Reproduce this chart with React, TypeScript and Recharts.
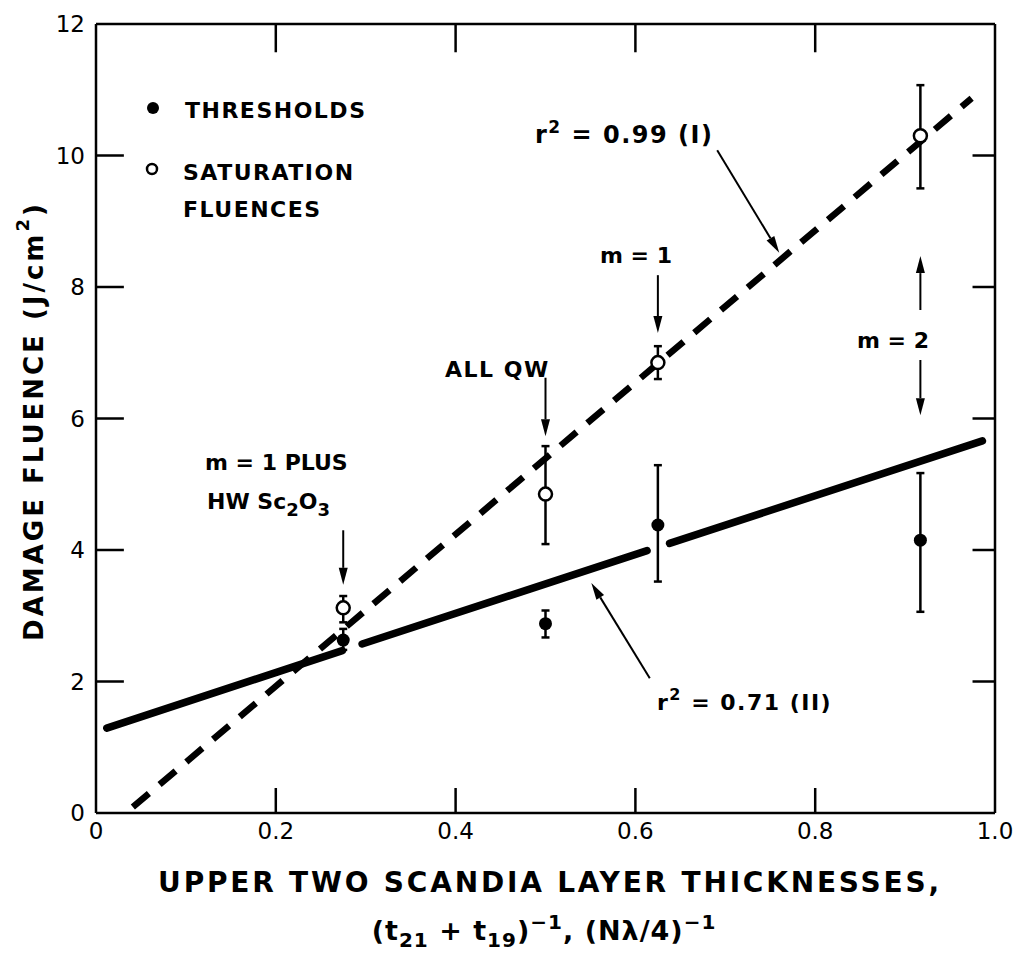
import {
  ComposedChart,
  ErrorBar,
  Line,
  ReferenceLine,
  Scatter,
  XAxis,
  YAxis,
} from "recharts";

// axis ticks
const X_TICKS = [0, 0.2, 0.4, 0.6, 0.8, 1.0];
const Y_TICKS = [0, 2, 4, 6, 8, 10, 12];
const X_INNER_TICKS = [0.2, 0.4, 0.6, 0.8];
const Y_INNER_TICKS = [2, 4, 6, 8, 10];

// thresholds (filled)
const thresholdX = [0.275, 0.5, 0.625, 0.917];
const thresholdY = [2.63, 2.88, 4.38, 4.15];
const thresholdLow = [2.48, 2.67, 3.52, 3.06];
const thresholdHigh = [2.8, 3.08, 5.29, 5.17];

// saturation fluences (open)
const saturationX = [0.275, 0.5, 0.625, 0.917];
const saturationY = [3.12, 4.85, 6.85, 10.3];
const saturationLow = [2.9, 4.09, 6.6, 9.5];
const saturationHigh = [3.3, 5.58, 7.1, 11.07];

// fit I (dashed), r^2 = 0.99
const fitIX = [0.041, 0.974];
const fitIY = [0.09, 10.87];

// fit II (heavy solid), r^2 = 0.71, drawn with two breaks
const fitIIX = [0.012, 0.274, 0.285, 0.296, 0.613, 0.625, 0.638, 0.986];
const fitIIY = [1.29, 2.47, null, 2.57, 3.99, null, 4.1, 5.66];

// annotation arrows: [x1, y1, x2(tip), y2(tip)]
const ARROWS = [
  [0.275, 4.3, 0.275, 3.47],
  [0.5, 6.62, 0.5, 5.73],
  [0.625, 8.18, 0.625, 7.3],
  [0.917, 7.65, 0.917, 8.47],
  [0.917, 6.89, 0.917, 6.05],
  [0.691, 10.08, 0.76, 8.52],
  [0.616, 2.05, 0.551, 3.5],
];

const withErr = (xs: number[], ys: number[], lo: number[], hi: number[]) =>
  xs.map((x, i) => ({ x, y: ys[i], err: [ys[i] - lo[i], hi[i] - ys[i]] }));

const thresholds = withErr(thresholdX, thresholdY, thresholdLow, thresholdHigh);
const saturation = withErr(saturationX, saturationY, saturationLow, saturationHigh);
const fitI = fitIX.map((x, i) => ({ x, y: fitIY[i] }));
const fitII = fitIIX.map((x, i) => ({ x, y: fitIIY[i] }));

const FONT = "'DejaVu Sans', 'Liberation Sans', sans-serif";
const AXIS = { stroke: "#000", strokeWidth: 2.5 };

const FilledDot = (props: any) => (
  <circle cx={props.cx} cy={props.cy} r={6.5} fill="#000" />
);
const OpenDot = (props: any) => (
  <circle cx={props.cx} cy={props.cy} r={6.5} fill="#fff" stroke="#000" strokeWidth={2.5} />
);

const Arrow = (props: any) => {
  const { x1, y1, x2, y2 } = props;
  const dx = x2 - x1;
  const dy = y2 - y1;
  const len = Math.sqrt(dx * dx + dy * dy) || 1;
  const ux = dx / len;
  const uy = dy / len;
  const bx = x2 - ux * 17;
  const by = y2 - uy * 17;
  return (
    <g>
      <line x1={x1} y1={y1} x2={bx} y2={by} stroke="#000" strokeWidth={2} />
      <polygon
        points={`${x2},${y2} ${bx - uy * 4.5},${by + ux * 4.5} ${bx + uy * 4.5},${by - ux * 4.5}`}
        fill="#000"
      />
    </g>
  );
};

export default function App() {
  return (
    <div style={{ position: "absolute", left: 0, top: 0, width: 1024, height: 968, background: "#fff" }}>
      <ComposedChart
        width={1024}
        height={968}
        margin={{ top: 24, right: 29, bottom: 95, left: 10 }}
      >
        <XAxis
          dataKey="x"
          type="number"
          domain={[0, 1]}
          ticks={X_TICKS}
          tickFormatter={(v: number) => (v === 0 ? "0" : v.toFixed(1))}
          axisLine={AXIS}
          tickLine={false}
          tickSize={0}
          tickMargin={10}
          height={60}
          tick={{ fill: "#000", fontSize: 23, fontFamily: FONT }}
        />
        <YAxis
          dataKey="y"
          type="number"
          domain={[0, 12]}
          ticks={Y_TICKS}
          axisLine={AXIS}
          tickLine={false}
          tickSize={0}
          tickMargin={11}
          width={86}
          tick={{ fill: "#000", fontSize: 23, fontFamily: FONT }}
        />

        {/* top and right frame */}
        <ReferenceLine y={12} stroke="#000" strokeWidth={2.5} />
        <ReferenceLine x={1} stroke="#000" strokeWidth={2.5} />

        {X_INNER_TICKS.map((t) => (
          <ReferenceLine key={`b${t}`} segment={[{ x: t, y: 0 }, { x: t, y: 0.38 }]} stroke="#000" strokeWidth={2.5} />
        ))}
        {X_INNER_TICKS.map((t) => (
          <ReferenceLine key={`t${t}`} segment={[{ x: t, y: 12 }, { x: t, y: 11.57 }]} stroke="#000" strokeWidth={2.5} />
        ))}
        {Y_INNER_TICKS.map((t) => (
          <ReferenceLine key={`l${t}`} segment={[{ x: 0, y: t }, { x: 0.031, y: t }]} stroke="#000" strokeWidth={2.5} />
        ))}
        {Y_INNER_TICKS.map((t) => (
          <ReferenceLine key={`r${t}`} segment={[{ x: 0.975, y: t }, { x: 1, y: t }]} stroke="#000" strokeWidth={2.5} />
        ))}

        <Line
          data={fitI}
          dataKey="y"
          type="linear"
          stroke="#000"
          strokeWidth={6.5}
          strokeDasharray="21 14"
          dot={false}
          activeDot={false}
          isAnimationActive={false}
        />
        <Line
          data={fitII}
          dataKey="y"
          type="linear"
          stroke="#000"
          strokeWidth={7.5}
          strokeLinecap="round"
          connectNulls={false}
          dot={false}
          activeDot={false}
          isAnimationActive={false}
        />

        {ARROWS.map(([x1, y1, x2, y2], i) => (
          <ReferenceLine
            key={`a${i}`}
            segment={[{ x: x1, y: y1 }, { x: x2, y: y2 }]}
            shape={Arrow}
          />
        ))}

        <Scatter data={thresholds} shape={FilledDot} isAnimationActive={false}>
          <ErrorBar dataKey="err" direction="y" width={4} stroke="#000" strokeWidth={2.5} />
        </Scatter>
        <Scatter data={saturation} shape={OpenDot} isAnimationActive={false}>
          <ErrorBar dataKey="err" direction="y" width={4} stroke="#000" strokeWidth={2.5} />
        </Scatter>
      </ComposedChart>

      <svg
        width={1024}
        height={968}
        style={{ position: "absolute", left: 0, top: 0, pointerEvents: "none" }}
        fontFamily={FONT}
        fontWeight="bold"
        fill="#000"
      >
        {/* legend */}
        <circle cx={153} cy={108} r={6} fill="#000" />
        <text x={185} y={118} fontSize={22} letterSpacing={1.5}>THRESHOLDS</text>
        <circle cx={152} cy={169} r={5} fill="#fff" stroke="#000" strokeWidth={2.5} />
        <text x={183} y={180} fontSize={22} letterSpacing={1.5}>SATURATION</text>
        <text x={183} y={217} fontSize={22} letterSpacing={1.5}>FLUENCES</text>

        {/* annotations */}
        <text x={535} y={143} fontSize={24} letterSpacing={1.5}>
          r<tspan dy={-10} fontSize={17}>2</tspan>
          <tspan dy={10}> = 0.99 (I)</tspan>
        </text>
        <text x={600} y={263} fontSize={22}>m = 1</text>
        <text x={445} y={377} fontSize={22} letterSpacing={1.5}>ALL QW</text>
        <text x={857} y={348} fontSize={22}>m = 2</text>
        <text x={205} y={470} fontSize={22}>m = 1 PLUS</text>
        <text x={207} y={509} fontSize={22}>
          HW Sc<tspan dy={7} fontSize={18}>2</tspan>
          <tspan dy={-7}>O</tspan>
          <tspan dy={7} fontSize={18}>3</tspan>
        </text>
        <text x={657} y={710} fontSize={22} letterSpacing={1.5}>
          r<tspan dy={-10} fontSize={16}>2</tspan>
          <tspan dy={10}> = 0.71 (II)</tspan>
        </text>

        {/* axis titles */}
        <text
          x={35}
          y={421}
          fontSize={26}
          textAnchor="middle"
          dominantBaseline="middle"
          letterSpacing={3}
          transform="rotate(-90, 35, 421)"
        >
          DAMAGE FLUENCE (J/cm<tspan dy={-11} fontSize={18}>2</tspan>
          <tspan dy={11}>)</tspan>
        </text>
        <text x={550} y={892} fontSize={28} textAnchor="middle" letterSpacing={2.8}>
          UPPER TWO SCANDIA LAYER THICKNESSES,
        </text>
        <text x={544} y={940} fontSize={27} textAnchor="middle" letterSpacing={1}>
          (t<tspan dy={7} fontSize={20}>21</tspan>
          <tspan dy={-7}> + t</tspan>
          <tspan dy={7} fontSize={20}>19</tspan>
          <tspan dy={-7}>)</tspan>
          <tspan dy={-11} fontSize={20}>−1</tspan>
          <tspan dy={11}>, (Nλ/4)</tspan>
          <tspan dy={-11} fontSize={20}>−1</tspan>
        </text>
      </svg>
    </div>
  );
}
